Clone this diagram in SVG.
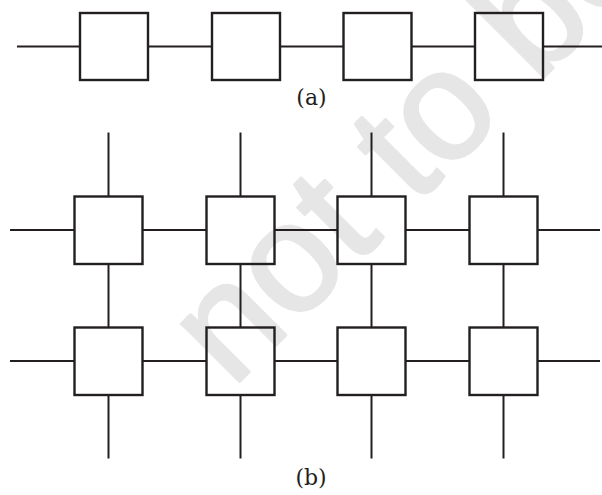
<svg xmlns="http://www.w3.org/2000/svg" width="602" height="495" viewBox="0 0 602 495">
<style>
.bg{fill:#ffffff}
.wm{font-family:"Liberation Sans","DejaVu Sans",sans-serif;font-size:155px;fill:#e6e6e6;stroke:#e6e6e6;stroke-width:3px;stroke-linejoin:round}
.node rect{fill:none;stroke:#231f20;stroke-width:2.4}
.conn line{stroke:#231f20;stroke-width:2}
.lbl{font-family:"DejaVu Serif","Liberation Serif",serif;font-size:22px;fill:#231f20;text-anchor:middle}
</style>
<rect class="bg" x="0" y="0" width="602" height="495"/>
<text class="wm" transform="translate(232,389) rotate(-45)">not to be</text>

<g id="connectors" class="conn">
  <line x1="17" y1="46.5" x2="80" y2="46.5"/>
  <line x1="148" y1="46.5" x2="212" y2="46.5"/>
  <line x1="280" y1="46.5" x2="343.5" y2="46.5"/>
  <line x1="411.5" y1="46.5" x2="475" y2="46.5"/>
  <line x1="543" y1="46.5" x2="602" y2="46.5"/>
  <line x1="10" y1="230" x2="74.5" y2="230"/>
  <line x1="142.5" y1="230" x2="206.5" y2="230"/>
  <line x1="274.5" y1="230" x2="337.5" y2="230"/>
  <line x1="405.5" y1="230" x2="469.5" y2="230"/>
  <line x1="537.5" y1="230" x2="600" y2="230"/>
  <line x1="10" y1="361" x2="74.5" y2="361"/>
  <line x1="142.5" y1="361" x2="206.5" y2="361"/>
  <line x1="274.5" y1="361" x2="337.5" y2="361"/>
  <line x1="405.5" y1="361" x2="469.5" y2="361"/>
  <line x1="537.5" y1="361" x2="600" y2="361"/>
  <line x1="108.5" y1="132.5" x2="108.5" y2="196.5"/>
  <line x1="108.5" y1="264" x2="108.5" y2="327.5"/>
  <line x1="108.5" y1="395" x2="108.5" y2="458.5"/>
  <line x1="240.5" y1="132.5" x2="240.5" y2="196.5"/>
  <line x1="240.5" y1="264" x2="240.5" y2="327.5"/>
  <line x1="240.5" y1="395" x2="240.5" y2="458.5"/>
  <line x1="371.5" y1="132.5" x2="371.5" y2="196.5"/>
  <line x1="371.5" y1="264" x2="371.5" y2="327.5"/>
  <line x1="371.5" y1="395" x2="371.5" y2="458.5"/>
  <line x1="503.5" y1="132.5" x2="503.5" y2="196.5"/>
  <line x1="503.5" y1="264" x2="503.5" y2="327.5"/>
  <line x1="503.5" y1="395" x2="503.5" y2="458.5"/>
</g>

<g id="a1" class="node"><rect x="80" y="13" width="68" height="67"/></g>
<g id="a2" class="node"><rect x="212" y="13" width="68" height="67"/></g>
<g id="a3" class="node"><rect x="343.5" y="13" width="68" height="67"/></g>
<g id="a4" class="node"><rect x="475" y="13" width="68" height="67"/></g>

<g id="b11" class="node"><rect x="74.5" y="196.5" width="68" height="67.5"/></g>
<g id="b12" class="node"><rect x="206.5" y="196.5" width="68" height="67.5"/></g>
<g id="b13" class="node"><rect x="337.5" y="196.5" width="68" height="67.5"/></g>
<g id="b14" class="node"><rect x="469.5" y="196.5" width="68" height="67.5"/></g>
<g id="b21" class="node"><rect x="74.5" y="327.5" width="68" height="67.5"/></g>
<g id="b22" class="node"><rect x="206.5" y="327.5" width="68" height="67.5"/></g>
<g id="b23" class="node"><rect x="337.5" y="327.5" width="68" height="67.5"/></g>
<g id="b24" class="node"><rect x="469.5" y="327.5" width="68" height="67.5"/></g>

<text class="lbl" x="311.5" y="105">(a)</text>
<text class="lbl" x="311" y="485">(b)</text>
</svg>
